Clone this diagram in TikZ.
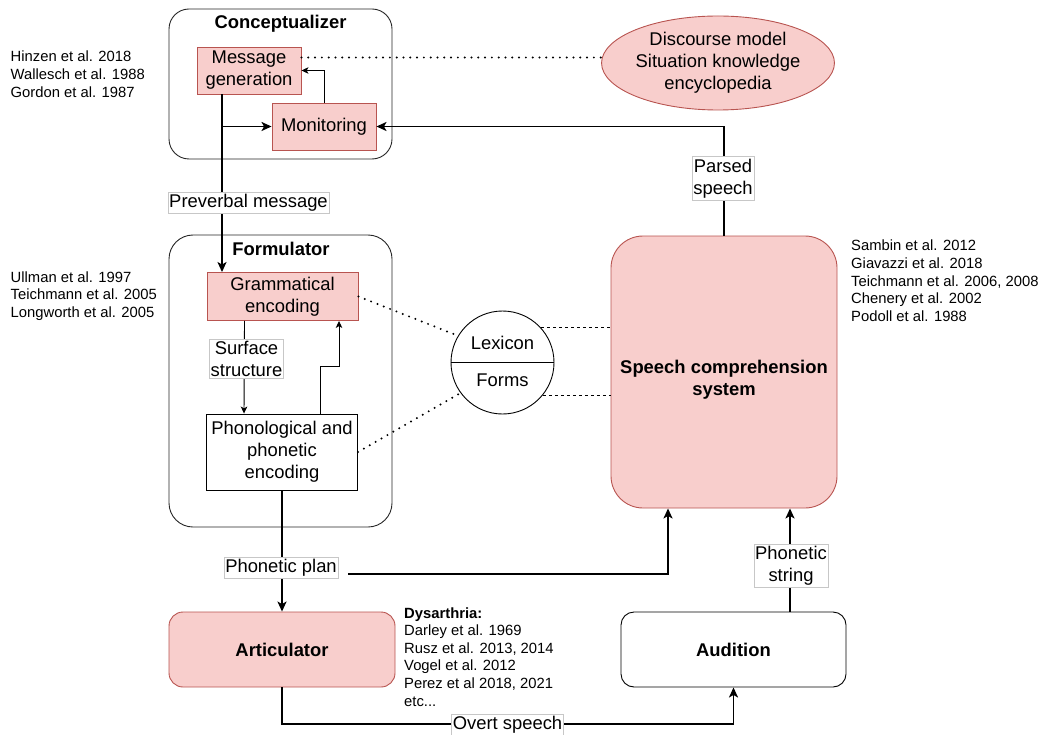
\documentclass[tikz,border=0pt]{standalone}
\usepackage{fontspec}
\setmainfont{Liberation Sans}
\usetikzlibrary{arrows.meta,shapes.geometric}

\definecolor{pinkfill}{HTML}{F8CECC}
\definecolor{pinkline}{HTML}{B85450}

\begin{document}
\begin{tikzpicture}[x=1pt,y=-1pt,
  font=\fontsize{18.4}{22}\selectfont,
  group/.style={draw=black!85, line width=0.9pt, rectangle, rounded corners=20pt, inner sep=0pt},
  pinkbox/.style={draw=pinkline, fill=pinkfill, line width=0.9pt, rectangle, align=center, inner sep=0pt},
  plainbox/.style={draw=black, fill=white, line width=0.9pt, rectangle, align=center, inner sep=0pt},
  boxtitle/.style={font=\fontsize{18.4}{22}\selectfont\bfseries, align=center, inner sep=0pt},
  lab/.style={fill=white, draw=black!22, line width=0.5pt, inner xsep=1.2pt, inner ysep=2pt, align=center},
  refs/.style={font=\fontsize{14.8}{17.6}\selectfont, align=left, anchor=north west, inner sep=0pt},
  flow/.style={line width=1.8pt, -{Stealth[length=10pt,width=9pt,inset=2.5pt]}},
  fine/.style={line width=0.9pt, -{Stealth[length=7pt,width=6.5pt,inset=1.8pt]}},
  dotline/.style={line width=2.2pt, line cap=round, dash pattern=on 0pt off 6.8pt},
  dashline/.style={line width=0.8pt, dash pattern=on 3pt off 3pt}
]
\useasboundingbox (0,0) rectangle (1048,735);

% ---------- Conceptualizer ----------
\node[group, minimum width=223pt, minimum height=150pt] (concept) at (280.5,84) {};
\node[boxtitle] (concepttitle) at (280.5,23.6) {Conceptualizer};
\node[pinkbox, minimum width=104pt, minimum height=47pt] (msg) at (249,70.5) {Message\\generation};
\node[pinkbox, minimum width=104pt, minimum height=47pt] (mon) at (324,126.5) {Monitoring};

% ---------- Discourse knowledge ----------
\node[ellipse, draw=pinkline, fill=pinkfill, line width=0.9pt, minimum width=196pt, minimum height=94pt,
      inner sep=0pt, align=center] (disc) at (718,63) {Discourse model\\Situation knowledge\\encyclopedia};

% ---------- Formulator ----------
\node[group, rounded corners=24pt, minimum width=223pt, minimum height=292pt] (form) at (280.5,381) {};
\node[boxtitle] (formtitle) at (281,249.3) {Formulator};
\node[pinkbox, minimum width=151pt, minimum height=48pt] (gram) at (282.5,296.5) {Grammatical\\encoding};
\node[plainbox, minimum width=151pt, minimum height=76pt] (phon) at (282,452) {Phonological and\\phonetic\\encoding};

% ---------- Lexicon ----------
\node[circle, draw=black, line width=0.9pt, minimum size=103pt, inner sep=0pt] (lex) at (502.5,362.5) {};
\draw[line width=1.3pt] (lex.west) -- (lex.east);
\node (lextop) at ([yshift=19.2pt]lex.center) {Lexicon};
\node (lexbot) at ([yshift=-17.5pt]lex.center) {Forms};

% ---------- Speech comprehension ----------
\node[pinkbox, rounded corners=32pt, minimum width=226pt, minimum height=272pt] (speech) at (724,372) {};
\node[boxtitle] (speechtxt) at ([yshift=-8pt]speech.center) {Speech comprehension\\system};

% ---------- Articulator and Audition ----------
\node[pinkbox, rounded corners=14pt, minimum width=226pt, minimum height=75pt,
      font=\fontsize{18.4}{22}\selectfont\bfseries] (artic) at (282,649.5) {Articulator};
\node[plainbox, rounded corners=13pt, minimum width=225pt, minimum height=75pt,
      font=\fontsize{18.4}{22}\selectfont\bfseries] (audit) at (733.5,649.5) {Audition};

% ---------- References ----------
\node[refs] (refconcept) at (10.5,51) {Hinzen et al. 2018\\Wallesch et al. 1988\\Gordon et al. 1987};
\node[refs] (refform) at (10.5,271.2) {Ullman et al. 1997\\Teichmann et al. 2005\\Longworth et al. 2005};
\node[refs] (refspeech) at (851,240) {Sambin et al. 2012\\Giavazzi et al. 2018\\Teichmann et al. 2006, 2008\\Chenery et al. 2002\\Podoll et al. 1988};
\node[refs] (refartic) at (404,607.2) {\textbf{Dysarthria:}\\Darley et al. 1969\\Rusz et al. 2013, 2014\\Vogel et al. 2012\\Perez et al 2018, 2021\\etc...};

% ---------- Connectors ----------
% knowledge links
\draw[dotline] ([yshift=13pt]msg.east) -- ([yshift=5.5pt,xshift=1pt]disc.west);
\draw[dotline] (gram.east) -- (lex.149);
\draw[dotline] (phon.east) -- (lex.216);
\draw[dashline] (lex.42) -- (speech.west |- lex.42);
\draw[dashline] (lex.-39) -- (speech.west |- lex.-39);

% preverbal message
\coordinate (branch) at (222,126.5);
\draw[flow] ([xshift=-27pt]msg.south) -- ([xshift=-60.5pt]gram.north);
\draw[flow] (branch) -- (mon.west);
\draw[fine] (mon.north) |- (msg.east);

% parsed speech back to monitoring
\draw[flow] (speech.north) |- (mon.east);

% inside the formulator
\draw[fine] ([xshift=-38pt]gram.south) -- ([xshift=-38pt]phon.north);
\draw[fine] ([xshift=38pt]phon.north) -- ++(0,-47) -| ([xshift=56.5pt]gram.south);

% phonetic plan
\draw[flow] (phon.south) -- (artic.north);
\coordinate (planfork) at (348,574);
\draw[flow] (planfork) -| ([xshift=-56pt]speech.south);

% overt speech
\draw[flow] (artic.south) -- ++(0,36.5) -| (audit.south);

% phonetic string
\draw[flow] ([xshift=56.5pt]audit.north) -- ([xshift=66pt]speech.south);

% ---------- Connector labels ----------
\node[lab] (prelab) at (248.5,202.5) {Preverbal message};
\node[lab] (parsedlab) at (723,178.3) {Parsed\\speech};
\node[lab] (surflab) at (246.5,359) {Surface\\structure};
\node[lab] (planlab) at (281,567.5) {Phonetic plan};
\node[lab] (stringlab) at (791,566) {Phonetic\\string};
\node[lab] (overtlab) at (507.5,725) {Overt speech};
\end{tikzpicture}
\end{document}
